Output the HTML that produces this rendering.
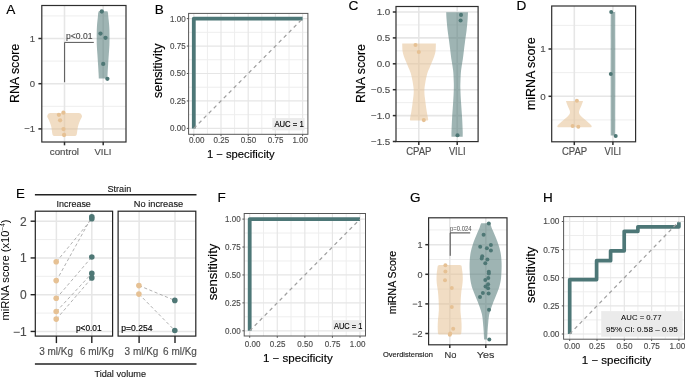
<!DOCTYPE html><html><head><meta charset="utf-8"><style>html,body{margin:0;padding:0;background:#fff;overflow:hidden}svg{display:block}text{font-family:"Liberation Sans",sans-serif}svg{will-change:transform}</style></head><body>
<svg width="685" height="377" viewBox="0 0 685 377">
<rect width="685" height="377" fill="#fff"/>
<line x1="41.8" y1="15.9" x2="126" y2="15.9" stroke="#eeeeee" stroke-width="1.0" />
<line x1="41.8" y1="61.1" x2="126" y2="61.1" stroke="#eeeeee" stroke-width="1.0" />
<line x1="41.8" y1="106.3" x2="126" y2="106.3" stroke="#eeeeee" stroke-width="1.0" />
<line x1="41.8" y1="38.5" x2="126" y2="38.5" stroke="#e6e6e6" stroke-width="1.6" />
<line x1="41.8" y1="83.7" x2="126" y2="83.7" stroke="#e6e6e6" stroke-width="1.6" />
<line x1="41.8" y1="128.9" x2="126" y2="128.9" stroke="#e6e6e6" stroke-width="1.6" />
<line x1="64.5" y1="5.5" x2="64.5" y2="142" stroke="#e6e6e6" stroke-width="1.6" />
<line x1="103.2" y1="5.5" x2="103.2" y2="142" stroke="#e6e6e6" stroke-width="1.6" />
<path d="M50.3,112.9 C50.02,113.02 49.05,113.25 48.6,113.6 C48.15,113.95 47.83,114.52 47.6,115 C47.37,115.48 47.12,115.92 47.2,116.5 C47.28,117.08 47.77,117.8 48.1,118.5 C48.43,119.2 48.75,119.62 49.2,120.7 C49.65,121.78 50.38,123.58 50.8,125 C51.22,126.42 51.45,127.78 51.7,129.2 C51.95,130.62 52.1,132.5 52.3,133.5 C52.5,134.5 52.62,134.8 52.9,135.2 C53.18,135.6 53.82,135.78 54,135.9 L75.2,135.9 C75.38,135.78 76.02,135.6 76.3,135.2 C76.58,134.8 76.7,134.5 76.9,133.5 C77.1,132.5 77.25,130.62 77.5,129.2 C77.75,127.78 77.98,126.42 78.4,125 C78.82,123.58 79.55,121.78 80,120.7 C80.45,119.62 80.77,119.2 81.1,118.5 C81.43,117.8 81.92,117.08 82,116.5 C82.08,115.92 81.83,115.48 81.6,115 C81.37,114.52 81.05,113.95 80.6,113.6 C80.15,113.25 79.18,113.02 78.9,112.9 Z" fill="#e6c194" fill-opacity="0.55"/>
<path d="M98.8,11.3 C98.7,11.58 98.35,12.12 98.2,13 C98.05,13.88 98.12,14.23 97.9,16.6 C97.68,18.97 97.1,23.67 96.9,27.2 C96.7,30.73 96.72,34.8 96.7,37.8 C96.68,40.8 96.68,42.4 96.8,45.2 C96.92,48 97.18,51.27 97.4,54.6 C97.62,57.93 97.9,62.02 98.1,65.2 C98.3,68.38 98.48,71.48 98.6,73.7 C98.72,75.92 98.77,77.7 98.8,78.5 L107.4,78.5 C107.43,77.7 107.48,75.92 107.6,73.7 C107.72,71.48 107.9,68.38 108.1,65.2 C108.3,62.02 108.58,57.93 108.8,54.6 C109.02,51.27 109.28,48 109.4,45.2 C109.52,42.4 109.52,40.8 109.5,37.8 C109.48,34.8 109.5,30.73 109.3,27.2 C109.1,23.67 108.52,18.97 108.3,16.6 C108.08,14.23 108.15,13.88 108,13 C107.85,12.12 107.5,11.58 107.4,11.3 Z" fill="#4e7775" fill-opacity="0.55"/>
<circle cx="63.4" cy="112.7" r="2.15" fill="#e6c194" />
<circle cx="58.9" cy="114.8" r="2.15" fill="#e6c194" />
<circle cx="60.1" cy="120.3" r="2.15" fill="#e6c194" />
<circle cx="63.5" cy="129.1" r="2.15" fill="#e6c194" />
<circle cx="64.1" cy="135" r="2.15" fill="#e6c194" />
<circle cx="101.8" cy="11.5" r="2.15" fill="#4e7775" />
<circle cx="100.5" cy="33.6" r="2.15" fill="#4e7775" />
<circle cx="105.5" cy="37.8" r="2.15" fill="#4e7775" />
<circle cx="103.2" cy="63.9" r="2.15" fill="#4e7775" />
<circle cx="107.4" cy="78.8" r="2.15" fill="#4e7775" />
<path d="M64.6,82.2 V42.4 H93.8" fill="none" stroke="#555" stroke-width="1"/>
<text x="66" y="38.9" font-size="8.8" fill="#4d4d4d" text-anchor="start" stroke="#4d4d4d" stroke-width="0.15" textLength="26.4" lengthAdjust="spacingAndGlyphs" >p&lt;0.01</text>
<rect x="41.8" y="5.5" width="84.2" height="136.5" fill="none" stroke="#2e2e2e" stroke-width="1.2" />
<line x1="38.4" y1="38.5" x2="41.8" y2="38.5" stroke="#2e2e2e" stroke-width="1.5" />
<line x1="38.4" y1="83.7" x2="41.8" y2="83.7" stroke="#2e2e2e" stroke-width="1.5" />
<line x1="38.4" y1="128.9" x2="41.8" y2="128.9" stroke="#2e2e2e" stroke-width="1.5" />
<line x1="64.5" y1="142" x2="64.5" y2="145.3" stroke="#2e2e2e" stroke-width="1.5" />
<line x1="103.2" y1="142" x2="103.2" y2="145.3" stroke="#2e2e2e" stroke-width="1.5" />
<text x="35" y="41.8" font-size="9.5" fill="#4d4d4d" text-anchor="end" stroke="#4d4d4d" stroke-width="0.15" >1</text>
<text x="35" y="87" font-size="9.5" fill="#4d4d4d" text-anchor="end" stroke="#4d4d4d" stroke-width="0.15" >0</text>
<text x="35" y="132.2" font-size="9.5" fill="#4d4d4d" text-anchor="end" stroke="#4d4d4d" stroke-width="0.15" >−1</text>
<text x="64.4" y="154.8" font-size="9.6" fill="#4d4d4d" text-anchor="middle" stroke="#4d4d4d" stroke-width="0.15" textLength="29.2" lengthAdjust="spacingAndGlyphs" >control</text>
<text x="102.9" y="154.8" font-size="9.6" fill="#4d4d4d" text-anchor="middle" stroke="#4d4d4d" stroke-width="0.15" textLength="16.8" lengthAdjust="spacingAndGlyphs" >VILI</text>
<text transform="rotate(-90 18.9 73.4)" x="18.9" y="73.4" font-size="12.2" fill="#000" text-anchor="middle" stroke="#000" stroke-width="0.15" textLength="59.3" lengthAdjust="spacingAndGlyphs" >RNA score</text>
<text x="6.2" y="14.1" font-size="13.6" fill="#000" text-anchor="start" stroke="#000" stroke-width="0.15" >A</text>
<line x1="188.6" y1="114.68" x2="307.9" y2="114.68" stroke="#eeeeee" stroke-width="1.0" />
<line x1="188.6" y1="87.22" x2="307.9" y2="87.22" stroke="#eeeeee" stroke-width="1.0" />
<line x1="188.6" y1="59.78" x2="307.9" y2="59.78" stroke="#eeeeee" stroke-width="1.0" />
<line x1="188.6" y1="32.32" x2="307.9" y2="32.32" stroke="#eeeeee" stroke-width="1.0" />
<line x1="207.4" y1="13.4" x2="207.4" y2="134.3" stroke="#eeeeee" stroke-width="1.0" />
<line x1="234.6" y1="13.4" x2="234.6" y2="134.3" stroke="#eeeeee" stroke-width="1.0" />
<line x1="261.8" y1="13.4" x2="261.8" y2="134.3" stroke="#eeeeee" stroke-width="1.0" />
<line x1="289" y1="13.4" x2="289" y2="134.3" stroke="#eeeeee" stroke-width="1.0" />
<line x1="188.6" y1="128.4" x2="307.9" y2="128.4" stroke="#e6e6e6" stroke-width="1.2" />
<line x1="188.6" y1="100.95" x2="307.9" y2="100.95" stroke="#e6e6e6" stroke-width="1.2" />
<line x1="188.6" y1="73.5" x2="307.9" y2="73.5" stroke="#e6e6e6" stroke-width="1.2" />
<line x1="188.6" y1="46.05" x2="307.9" y2="46.05" stroke="#e6e6e6" stroke-width="1.2" />
<line x1="188.6" y1="18.6" x2="307.9" y2="18.6" stroke="#e6e6e6" stroke-width="1.2" />
<line x1="193.8" y1="13.4" x2="193.8" y2="134.3" stroke="#e6e6e6" stroke-width="1.2" />
<line x1="221" y1="13.4" x2="221" y2="134.3" stroke="#e6e6e6" stroke-width="1.2" />
<line x1="248.2" y1="13.4" x2="248.2" y2="134.3" stroke="#e6e6e6" stroke-width="1.2" />
<line x1="275.4" y1="13.4" x2="275.4" y2="134.3" stroke="#e6e6e6" stroke-width="1.2" />
<line x1="302.6" y1="13.4" x2="302.6" y2="134.3" stroke="#e6e6e6" stroke-width="1.2" />
<path d="M193.8,128.4 V18.6 H302.6" fill="none" stroke="#4d7777" stroke-width="3.8" stroke-linejoin="round"/>
<line x1="193.8" y1="128.4" x2="302.6" y2="18.6" stroke="#a0a0a0" stroke-width="1.25" stroke-dasharray="3.7,3.4"/>
<rect x="272.3" y="118" width="32.3" height="12.4" fill="#ebebeb" stroke="none" stroke-width="1" />
<text x="274.4" y="126.8" font-size="8.4" fill="#000" text-anchor="start" stroke="#000" stroke-width="0.15" textLength="29.3" lengthAdjust="spacingAndGlyphs" >AUC = 1</text>
<rect x="188.6" y="13.4" width="119.3" height="120.9" fill="none" stroke="#575757" stroke-width="1.0" />
<line x1="186.8" y1="128.4" x2="188.6" y2="128.4" stroke="#555" stroke-width="1.0" />
<line x1="193.8" y1="134.3" x2="193.8" y2="136.1" stroke="#555" stroke-width="1.0" />
<text x="185.6" y="131.3" font-size="8.2" fill="#4d4d4d" text-anchor="end" stroke="#4d4d4d" stroke-width="0.15" textLength="15.6" lengthAdjust="spacingAndGlyphs" >0.00</text>
<text x="196.7" y="143.2" font-size="8.2" fill="#4d4d4d" text-anchor="middle" stroke="#4d4d4d" stroke-width="0.15" textLength="15.6" lengthAdjust="spacingAndGlyphs" >0.00</text>
<line x1="186.8" y1="100.95" x2="188.6" y2="100.95" stroke="#555" stroke-width="1.0" />
<line x1="221" y1="134.3" x2="221" y2="136.1" stroke="#555" stroke-width="1.0" />
<text x="185.6" y="103.85" font-size="8.2" fill="#4d4d4d" text-anchor="end" stroke="#4d4d4d" stroke-width="0.15" textLength="15.6" lengthAdjust="spacingAndGlyphs" >0.25</text>
<text x="221.3" y="143.2" font-size="8.2" fill="#4d4d4d" text-anchor="middle" stroke="#4d4d4d" stroke-width="0.15" textLength="15.6" lengthAdjust="spacingAndGlyphs" >0.25</text>
<line x1="186.8" y1="73.5" x2="188.6" y2="73.5" stroke="#555" stroke-width="1.0" />
<line x1="248.2" y1="134.3" x2="248.2" y2="136.1" stroke="#555" stroke-width="1.0" />
<text x="185.6" y="76.4" font-size="8.2" fill="#4d4d4d" text-anchor="end" stroke="#4d4d4d" stroke-width="0.15" textLength="15.6" lengthAdjust="spacingAndGlyphs" >0.50</text>
<text x="248.5" y="143.2" font-size="8.2" fill="#4d4d4d" text-anchor="middle" stroke="#4d4d4d" stroke-width="0.15" textLength="15.6" lengthAdjust="spacingAndGlyphs" >0.50</text>
<line x1="186.8" y1="46.05" x2="188.6" y2="46.05" stroke="#555" stroke-width="1.0" />
<line x1="275.4" y1="134.3" x2="275.4" y2="136.1" stroke="#555" stroke-width="1.0" />
<text x="185.6" y="48.95" font-size="8.2" fill="#4d4d4d" text-anchor="end" stroke="#4d4d4d" stroke-width="0.15" textLength="15.6" lengthAdjust="spacingAndGlyphs" >0.75</text>
<text x="275.6" y="143.2" font-size="8.2" fill="#4d4d4d" text-anchor="middle" stroke="#4d4d4d" stroke-width="0.15" textLength="15.6" lengthAdjust="spacingAndGlyphs" >0.75</text>
<line x1="186.8" y1="18.6" x2="188.6" y2="18.6" stroke="#555" stroke-width="1.0" />
<line x1="302.6" y1="134.3" x2="302.6" y2="136.1" stroke="#555" stroke-width="1.0" />
<text x="185.6" y="21.5" font-size="8.2" fill="#4d4d4d" text-anchor="end" stroke="#4d4d4d" stroke-width="0.15" textLength="15.6" lengthAdjust="spacingAndGlyphs" >1.00</text>
<text x="300.2" y="143.2" font-size="8.2" fill="#4d4d4d" text-anchor="middle" stroke="#4d4d4d" stroke-width="0.15" textLength="15.6" lengthAdjust="spacingAndGlyphs" >1.00</text>
<text transform="rotate(-90 161.8 70.8)" x="161.8" y="70.8" font-size="12.4" fill="#000" text-anchor="middle" stroke="#000" stroke-width="0.15" textLength="54.6" lengthAdjust="spacingAndGlyphs" >sensitivity</text>
<text x="206.9" y="157.6" font-size="11.2" fill="#000" text-anchor="start" stroke="#000" stroke-width="0.15" textLength="67.8" lengthAdjust="spacingAndGlyphs" >1 − specificity</text>
<text x="154.8" y="14.2" font-size="13.5" fill="#000" text-anchor="start" stroke="#000" stroke-width="0.15" >B</text>
<line x1="396" y1="24.95" x2="478.1" y2="24.95" stroke="#eeeeee" stroke-width="1.0" />
<line x1="396" y1="50.85" x2="478.1" y2="50.85" stroke="#eeeeee" stroke-width="1.0" />
<line x1="396" y1="76.75" x2="478.1" y2="76.75" stroke="#eeeeee" stroke-width="1.0" />
<line x1="396" y1="102.65" x2="478.1" y2="102.65" stroke="#eeeeee" stroke-width="1.0" />
<line x1="396" y1="128.55" x2="478.1" y2="128.55" stroke="#eeeeee" stroke-width="1.0" />
<line x1="396" y1="12" x2="478.1" y2="12" stroke="#e6e6e6" stroke-width="1.6" />
<line x1="396" y1="37.9" x2="478.1" y2="37.9" stroke="#e6e6e6" stroke-width="1.6" />
<line x1="396" y1="63.8" x2="478.1" y2="63.8" stroke="#e6e6e6" stroke-width="1.6" />
<line x1="396" y1="89.7" x2="478.1" y2="89.7" stroke="#e6e6e6" stroke-width="1.6" />
<line x1="396" y1="115.6" x2="478.1" y2="115.6" stroke="#e6e6e6" stroke-width="1.6" />
<line x1="418.8" y1="6.5" x2="418.8" y2="141.6" stroke="#e6e6e6" stroke-width="1.6" />
<line x1="457.2" y1="6.5" x2="457.2" y2="141.6" stroke="#e6e6e6" stroke-width="1.6" />
<path d="M402.2,43.6 C402.26,44.85 402.25,48.92 402.55,51.1 C402.85,53.28 403.38,54.83 404,56.7 C404.62,58.57 405.48,60.43 406.25,62.3 C407.02,64.17 407.83,66.05 408.6,67.9 C409.37,69.75 410.19,71.18 410.85,73.4 C411.51,75.62 412.07,78.25 412.55,81.2 C413.03,84.15 413.73,87.58 413.75,91.1 C413.77,94.62 413.04,98.95 412.65,102.3 C412.26,105.65 411.85,108.37 411.4,111.2 C410.95,114.03 410.11,117.77 409.95,119.3 C409.79,120.83 410.37,120.22 410.45,120.4 L427.65,120.4 C427.73,120.22 428.31,120.83 428.15,119.3 C427.99,117.77 427.15,114.03 426.7,111.2 C426.25,108.37 425.84,105.65 425.45,102.3 C425.06,98.95 424.33,94.62 424.35,91.1 C424.37,87.58 425.07,84.15 425.55,81.2 C426.03,78.25 426.59,75.62 427.25,73.4 C427.91,71.18 428.73,69.75 429.5,67.9 C430.27,66.05 431.08,64.17 431.85,62.3 C432.62,60.43 433.48,58.57 434.1,56.7 C434.72,54.83 435.25,53.28 435.55,51.1 C435.85,48.92 435.84,44.85 435.9,43.6 Z" fill="#e6c194" fill-opacity="0.55"/>
<path d="M446.2,12.2 C446.26,13.35 446.32,16.08 446.55,19.1 C446.78,22.12 447.17,26.58 447.6,30.3 C448.03,34.02 448.73,38.25 449.15,41.4 C449.58,44.55 449.78,46.25 450.15,49.2 C450.52,52.15 450.86,55.58 451.35,59.1 C451.84,62.62 452.7,66.58 453.1,70.3 C453.5,74.02 453.63,78.25 453.75,81.4 C453.87,84.55 453.9,85.72 453.8,89.2 C453.7,92.68 453.43,97.72 453.15,102.3 C452.88,106.88 452.43,111.92 452.15,116.7 C451.88,121.48 451.61,127.65 451.5,131 C451.39,134.35 451.5,135.83 451.5,136.8 L462.7,136.8 C462.7,135.83 462.81,134.35 462.7,131 C462.59,127.65 462.33,121.48 462.05,116.7 C461.77,111.92 461.32,106.88 461.05,102.3 C460.78,97.72 460.5,92.68 460.4,89.2 C460.3,85.72 460.33,84.55 460.45,81.4 C460.57,78.25 460.7,74.02 461.1,70.3 C461.5,66.58 462.36,62.62 462.85,59.1 C463.34,55.58 463.68,52.15 464.05,49.2 C464.42,46.25 464.62,44.55 465.05,41.4 C465.48,38.25 466.17,34.02 466.6,30.3 C467.03,26.58 467.42,22.12 467.65,19.1 C467.88,16.08 467.94,13.35 468,12.2 Z" fill="#4e7775" fill-opacity="0.55"/>
<circle cx="415.5" cy="45" r="2.05" fill="#e6c194" />
<circle cx="418.8" cy="52" r="2.05" fill="#e6c194" />
<circle cx="423.8" cy="120.1" r="2.05" fill="#e6c194" />
<circle cx="461" cy="14.9" r="2.05" fill="#4e7775" />
<circle cx="460.6" cy="20.5" r="2.05" fill="#4e7775" />
<circle cx="457.5" cy="135.3" r="2.05" fill="#4e7775" />
<rect x="396" y="6.5" width="82.1" height="135.1" fill="none" stroke="#2e2e2e" stroke-width="1.2" />
<line x1="392.8" y1="12" x2="396" y2="12" stroke="#2e2e2e" stroke-width="1.5" />
<text x="390.3" y="15.4" font-size="9.8" fill="#4d4d4d" text-anchor="end" stroke="#4d4d4d" stroke-width="0.15" >1.0</text>
<line x1="392.8" y1="37.9" x2="396" y2="37.9" stroke="#2e2e2e" stroke-width="1.5" />
<text x="390.3" y="41.3" font-size="9.8" fill="#4d4d4d" text-anchor="end" stroke="#4d4d4d" stroke-width="0.15" >0.5</text>
<line x1="392.8" y1="63.8" x2="396" y2="63.8" stroke="#2e2e2e" stroke-width="1.5" />
<text x="390.3" y="67.2" font-size="9.8" fill="#4d4d4d" text-anchor="end" stroke="#4d4d4d" stroke-width="0.15" >0.0</text>
<line x1="392.8" y1="89.7" x2="396" y2="89.7" stroke="#2e2e2e" stroke-width="1.5" />
<text x="390.3" y="93.1" font-size="9.8" fill="#4d4d4d" text-anchor="end" stroke="#4d4d4d" stroke-width="0.15" >−0.5</text>
<line x1="392.8" y1="115.6" x2="396" y2="115.6" stroke="#2e2e2e" stroke-width="1.5" />
<text x="390.3" y="119" font-size="9.8" fill="#4d4d4d" text-anchor="end" stroke="#4d4d4d" stroke-width="0.15" >−1.0</text>
<line x1="392.8" y1="141.5" x2="396" y2="141.5" stroke="#2e2e2e" stroke-width="1.5" />
<text x="390.3" y="144.9" font-size="9.8" fill="#4d4d4d" text-anchor="end" stroke="#4d4d4d" stroke-width="0.15" >−1.5</text>
<line x1="418.8" y1="141.6" x2="418.8" y2="144.9" stroke="#2e2e2e" stroke-width="1.5" />
<line x1="457.2" y1="141.6" x2="457.2" y2="144.9" stroke="#2e2e2e" stroke-width="1.5" />
<text x="418.8" y="154.6" font-size="10.2" fill="#4d4d4d" text-anchor="middle" stroke="#4d4d4d" stroke-width="0.15" textLength="25.3" lengthAdjust="spacingAndGlyphs" >CPAP</text>
<text x="457.2" y="154.6" font-size="10.2" fill="#4d4d4d" text-anchor="middle" stroke="#4d4d4d" stroke-width="0.15" textLength="16.6" lengthAdjust="spacingAndGlyphs" >VILI</text>
<text transform="rotate(-90 365.1 73.55)" x="365.1" y="73.55" font-size="12.2" fill="#000" text-anchor="middle" stroke="#000" stroke-width="0.15" textLength="59" lengthAdjust="spacingAndGlyphs" >RNA score</text>
<text x="348.6" y="9.8" font-size="13.7" fill="#000" text-anchor="start" stroke="#000" stroke-width="0.15" >C</text>
<line x1="551.7" y1="25.35" x2="635.6" y2="25.35" stroke="#eeeeee" stroke-width="1.0" />
<line x1="551.7" y1="72.65" x2="635.6" y2="72.65" stroke="#eeeeee" stroke-width="1.0" />
<line x1="551.7" y1="119.95" x2="635.6" y2="119.95" stroke="#eeeeee" stroke-width="1.0" />
<line x1="551.7" y1="49" x2="635.6" y2="49" stroke="#e6e6e6" stroke-width="1.6" />
<line x1="551.7" y1="96.3" x2="635.6" y2="96.3" stroke="#e6e6e6" stroke-width="1.6" />
<line x1="574.3" y1="6" x2="574.3" y2="141.8" stroke="#e6e6e6" stroke-width="1.6" />
<line x1="612.9" y1="6" x2="612.9" y2="141.8" stroke="#e6e6e6" stroke-width="1.6" />
<path d="M565.9,101 C566.17,101.75 566.93,103.95 567.55,105.5 C568.17,107.05 569.22,109.02 569.6,110.3 C569.98,111.58 570.11,112.25 569.85,113.2 C569.59,114.15 569.11,114.88 568.05,116 C566.99,117.12 564.97,118.62 563.5,119.9 C562.03,121.18 560.28,122.67 559.25,123.7 C558.22,124.73 557.52,125.5 557.3,126.1 C557.07,126.7 557.8,127.1 557.9,127.3 L591.1,127.3 C591.2,127.1 591.93,126.7 591.7,126.1 C591.48,125.5 590.78,124.73 589.75,123.7 C588.72,122.67 586.97,121.18 585.5,119.9 C584.03,118.62 582.01,117.12 580.95,116 C579.89,114.88 579.41,114.15 579.15,113.2 C578.89,112.25 579.02,111.58 579.4,110.3 C579.78,109.02 580.83,107.05 581.45,105.5 C582.07,103.95 582.83,101.75 583.1,101 Z" fill="#e6c194" fill-opacity="0.55"/>
<path d="M611,12 C610.96,12.25 610.8,8.83 610.75,13.5 C610.7,18.17 610.72,28.92 610.7,40 C610.68,51.08 610.65,66.67 610.65,80 C610.65,93.33 610.68,110.77 610.7,120 C610.72,129.23 610.74,132.83 610.75,135.4 L615.25,135.4 C615.26,132.83 615.28,129.23 615.3,120 C615.32,110.77 615.35,93.33 615.35,80 C615.35,66.67 615.32,51.08 615.3,40 C615.28,28.92 615.3,18.17 615.25,13.5 C615.2,8.83 615.04,12.25 615,12 Z" fill="#4e7775" fill-opacity="0.55"/>
<circle cx="576.9" cy="100.8" r="2" fill="#e6c194" />
<circle cx="572.6" cy="126.1" r="2" fill="#e6c194" />
<circle cx="578.3" cy="126.7" r="2" fill="#e6c194" />
<circle cx="611.2" cy="12" r="2" fill="#4e7775" />
<circle cx="610.8" cy="73.9" r="2" fill="#4e7775" />
<circle cx="615.7" cy="136.1" r="2" fill="#4e7775" />
<rect x="551.7" y="6" width="83.9" height="135.8" fill="none" stroke="#2e2e2e" stroke-width="1.2" />
<line x1="548.5" y1="49" x2="551.7" y2="49" stroke="#2e2e2e" stroke-width="1.5" />
<text x="545.6" y="52.4" font-size="9.8" fill="#4d4d4d" text-anchor="end" stroke="#4d4d4d" stroke-width="0.15" >1</text>
<line x1="548.5" y1="96.3" x2="551.7" y2="96.3" stroke="#2e2e2e" stroke-width="1.5" />
<text x="545.6" y="99.7" font-size="9.8" fill="#4d4d4d" text-anchor="end" stroke="#4d4d4d" stroke-width="0.15" >0</text>
<line x1="574.3" y1="141.8" x2="574.3" y2="145.1" stroke="#2e2e2e" stroke-width="1.5" />
<line x1="612.9" y1="141.8" x2="612.9" y2="145.1" stroke="#2e2e2e" stroke-width="1.5" />
<text x="574.6" y="155" font-size="10.2" fill="#4d4d4d" text-anchor="middle" stroke="#4d4d4d" stroke-width="0.15" textLength="25.3" lengthAdjust="spacingAndGlyphs" >CPAP</text>
<text x="612.9" y="155" font-size="10.2" fill="#4d4d4d" text-anchor="middle" stroke="#4d4d4d" stroke-width="0.15" textLength="16.6" lengthAdjust="spacingAndGlyphs" >VILI</text>
<text transform="rotate(-90 534.8 73.75)" x="534.8" y="73.75" font-size="12.2" fill="#000" text-anchor="middle" stroke="#000" stroke-width="0.15" textLength="72.6" lengthAdjust="spacingAndGlyphs" >miRNA score</text>
<text x="516.5" y="9.6" font-size="13.6" fill="#000" text-anchor="start" stroke="#000" stroke-width="0.15" >D</text>
<line x1="35.3" y1="239.57" x2="112.6" y2="239.57" stroke="#eeeeee" stroke-width="1.0" />
<line x1="35.3" y1="276.32" x2="112.6" y2="276.32" stroke="#eeeeee" stroke-width="1.0" />
<line x1="35.3" y1="313.07" x2="112.6" y2="313.07" stroke="#eeeeee" stroke-width="1.0" />
<line x1="35.3" y1="221.2" x2="112.6" y2="221.2" stroke="#e6e6e6" stroke-width="1.5" />
<line x1="35.3" y1="257.95" x2="112.6" y2="257.95" stroke="#e6e6e6" stroke-width="1.5" />
<line x1="35.3" y1="294.7" x2="112.6" y2="294.7" stroke="#e6e6e6" stroke-width="1.5" />
<line x1="35.3" y1="331.45" x2="112.6" y2="331.45" stroke="#e6e6e6" stroke-width="1.5" />
<line x1="56.4" y1="211.2" x2="56.4" y2="336.1" stroke="#e6e6e6" stroke-width="1.5" />
<line x1="91.8" y1="211.2" x2="91.8" y2="336.1" stroke="#e6e6e6" stroke-width="1.5" />
<line x1="118.1" y1="239.57" x2="195.8" y2="239.57" stroke="#eeeeee" stroke-width="1.0" />
<line x1="118.1" y1="276.32" x2="195.8" y2="276.32" stroke="#eeeeee" stroke-width="1.0" />
<line x1="118.1" y1="313.07" x2="195.8" y2="313.07" stroke="#eeeeee" stroke-width="1.0" />
<line x1="118.1" y1="221.2" x2="195.8" y2="221.2" stroke="#e6e6e6" stroke-width="1.5" />
<line x1="118.1" y1="257.95" x2="195.8" y2="257.95" stroke="#e6e6e6" stroke-width="1.5" />
<line x1="118.1" y1="294.7" x2="195.8" y2="294.7" stroke="#e6e6e6" stroke-width="1.5" />
<line x1="118.1" y1="331.45" x2="195.8" y2="331.45" stroke="#e6e6e6" stroke-width="1.5" />
<line x1="139.1" y1="211.2" x2="139.1" y2="336.1" stroke="#e6e6e6" stroke-width="1.5" />
<line x1="175" y1="211.2" x2="175" y2="336.1" stroke="#e6e6e6" stroke-width="1.5" />
<line x1="56.4" y1="261.8" x2="91.8" y2="218.8" stroke="#a8a8a8" stroke-width="0.9" stroke-dasharray="3.2,2.4"/>
<line x1="56.4" y1="280.7" x2="91.8" y2="216.9" stroke="#a8a8a8" stroke-width="0.9" stroke-dasharray="3.2,2.4"/>
<line x1="56.4" y1="298.3" x2="91.8" y2="257" stroke="#a8a8a8" stroke-width="0.9" stroke-dasharray="3.2,2.4"/>
<line x1="56.4" y1="311.5" x2="91.8" y2="273.4" stroke="#a8a8a8" stroke-width="0.9" stroke-dasharray="3.2,2.4"/>
<line x1="56.4" y1="319.1" x2="91.8" y2="277.9" stroke="#a8a8a8" stroke-width="0.9" stroke-dasharray="3.2,2.4"/>
<line x1="139" y1="285.6" x2="174.8" y2="300.4" stroke="#a8a8a8" stroke-width="0.9" stroke-dasharray="3.2,2.4"/>
<line x1="139" y1="294.1" x2="174.8" y2="330.5" stroke="#a8a8a8" stroke-width="0.9" stroke-dasharray="3.2,2.4"/>
<circle cx="56.2" cy="261.8" r="2.8" fill="#e6c194" />
<circle cx="56.2" cy="280.6" r="2.8" fill="#e6c194" />
<circle cx="56.2" cy="298.3" r="2.8" fill="#e6c194" />
<circle cx="56.2" cy="311.5" r="2.8" fill="#e6c194" />
<circle cx="56.2" cy="319.1" r="2.8" fill="#e6c194" />
<circle cx="91.8" cy="216.8" r="2.8" fill="#4e7775" />
<circle cx="91.8" cy="218.8" r="2.8" fill="#4e7775" />
<circle cx="91.8" cy="257" r="2.8" fill="#4e7775" />
<circle cx="91.8" cy="273.4" r="2.8" fill="#4e7775" />
<circle cx="91.8" cy="277.9" r="2.8" fill="#4e7775" />
<circle cx="138.9" cy="285.6" r="2.8" fill="#e6c194" />
<circle cx="138.9" cy="294.1" r="2.8" fill="#e6c194" />
<circle cx="174.8" cy="300.4" r="2.8" fill="#4e7775" />
<circle cx="174.8" cy="330.5" r="2.8" fill="#4e7775" />
<rect x="35.3" y="211.2" width="77.3" height="124.9" fill="none" stroke="#222" stroke-width="1.2" />
<line x1="56.4" y1="336.1" x2="56.4" y2="343.1" stroke="#222" stroke-width="1.4" />
<line x1="91.8" y1="336.1" x2="91.8" y2="343.1" stroke="#222" stroke-width="1.4" />
<rect x="118.1" y="211.2" width="77.7" height="124.9" fill="none" stroke="#222" stroke-width="1.2" />
<line x1="139.1" y1="336.1" x2="139.1" y2="343.1" stroke="#222" stroke-width="1.4" />
<line x1="175" y1="336.1" x2="175" y2="343.1" stroke="#222" stroke-width="1.4" />
<line x1="30.6" y1="221.2" x2="35.3" y2="221.2" stroke="#222" stroke-width="1.4" />
<text x="26.6" y="225.5" font-size="12" fill="#4d4d4d" text-anchor="end" stroke="#4d4d4d" stroke-width="0.15" >2</text>
<line x1="30.6" y1="257.95" x2="35.3" y2="257.95" stroke="#222" stroke-width="1.4" />
<text x="26.6" y="262.25" font-size="12" fill="#4d4d4d" text-anchor="end" stroke="#4d4d4d" stroke-width="0.15" >1</text>
<line x1="30.6" y1="294.7" x2="35.3" y2="294.7" stroke="#222" stroke-width="1.4" />
<text x="26.6" y="299" font-size="12" fill="#4d4d4d" text-anchor="end" stroke="#4d4d4d" stroke-width="0.15" >0</text>
<line x1="30.6" y1="331.45" x2="35.3" y2="331.45" stroke="#222" stroke-width="1.4" />
<text x="26.6" y="335.75" font-size="12" fill="#4d4d4d" text-anchor="end" stroke="#4d4d4d" stroke-width="0.15" >−1</text>
<text x="75.9" y="331.4" font-size="8.3" fill="#000" text-anchor="start" stroke="#000" stroke-width="0.15" textLength="25.7" lengthAdjust="spacingAndGlyphs" >p&lt;0.01</text>
<text x="121.3" y="331" font-size="8.3" fill="#000" text-anchor="start" stroke="#000" stroke-width="0.15" textLength="31.2" lengthAdjust="spacingAndGlyphs" >p=0.254</text>
<text x="56.1" y="354.9" font-size="10.2" fill="#4d4d4d" text-anchor="middle" stroke="#4d4d4d" stroke-width="0.15" textLength="33.8" lengthAdjust="spacingAndGlyphs" >3 ml/Kg</text>
<text x="96.9" y="354.9" font-size="10.2" fill="#4d4d4d" text-anchor="middle" stroke="#4d4d4d" stroke-width="0.15" textLength="33.8" lengthAdjust="spacingAndGlyphs" >6 ml/Kg</text>
<text x="141.5" y="354.9" font-size="10.2" fill="#4d4d4d" text-anchor="middle" stroke="#4d4d4d" stroke-width="0.15" textLength="33.8" lengthAdjust="spacingAndGlyphs" >3 ml/Kg</text>
<text x="180" y="354.9" font-size="10.2" fill="#4d4d4d" text-anchor="middle" stroke="#4d4d4d" stroke-width="0.15" textLength="33.8" lengthAdjust="spacingAndGlyphs" >6 ml/Kg</text>
<line x1="34.9" y1="194.8" x2="196.5" y2="194.8" stroke="#222" stroke-width="1.5" />
<line x1="34.9" y1="364.1" x2="196.5" y2="364.1" stroke="#222" stroke-width="1.5" />
<text x="107.5" y="191.5" font-size="9.0" fill="#1a1a1a" text-anchor="start" stroke="#1a1a1a" stroke-width="0.15" textLength="23.7" lengthAdjust="spacingAndGlyphs" >Strain</text>
<text x="73.7" y="207" font-size="8.9" fill="#1a1a1a" text-anchor="middle" stroke="#1a1a1a" stroke-width="0.15" textLength="34.3" lengthAdjust="spacingAndGlyphs" >Increase</text>
<text x="158.5" y="207" font-size="8.9" fill="#1a1a1a" text-anchor="middle" stroke="#1a1a1a" stroke-width="0.15" textLength="49.4" lengthAdjust="spacingAndGlyphs" >No increase</text>
<text x="120.2" y="376.9" font-size="9.6" fill="#1a1a1a" text-anchor="middle" stroke="#1a1a1a" stroke-width="0.15" textLength="51.6" lengthAdjust="spacingAndGlyphs" >Tidal volume</text>
<text transform="rotate(-90 8.6 270.1)" x="8.6" y="270.1" font-size="11.2" fill="#000" text-anchor="middle" textLength="101" lengthAdjust="spacingAndGlyphs">miRNA score (x10<tspan dy="-4" font-size="6.3">−4</tspan><tspan dy="4">)</tspan></text>
<text x="15.9" y="197.7" font-size="13.3" fill="#000" text-anchor="start" stroke="#000" stroke-width="0.15" >E</text>
<line x1="244.2" y1="316.84" x2="365.5" y2="316.84" stroke="#eeeeee" stroke-width="1.0" />
<line x1="244.2" y1="288.91" x2="365.5" y2="288.91" stroke="#eeeeee" stroke-width="1.0" />
<line x1="244.2" y1="260.99" x2="365.5" y2="260.99" stroke="#eeeeee" stroke-width="1.0" />
<line x1="244.2" y1="233.06" x2="365.5" y2="233.06" stroke="#eeeeee" stroke-width="1.0" />
<line x1="263.49" y1="213.5" x2="263.49" y2="336" stroke="#eeeeee" stroke-width="1.0" />
<line x1="291.06" y1="213.5" x2="291.06" y2="336" stroke="#eeeeee" stroke-width="1.0" />
<line x1="318.64" y1="213.5" x2="318.64" y2="336" stroke="#eeeeee" stroke-width="1.0" />
<line x1="346.21" y1="213.5" x2="346.21" y2="336" stroke="#eeeeee" stroke-width="1.0" />
<line x1="244.2" y1="330.8" x2="365.5" y2="330.8" stroke="#e6e6e6" stroke-width="1.2" />
<line x1="244.2" y1="302.88" x2="365.5" y2="302.88" stroke="#e6e6e6" stroke-width="1.2" />
<line x1="244.2" y1="274.95" x2="365.5" y2="274.95" stroke="#e6e6e6" stroke-width="1.2" />
<line x1="244.2" y1="247.03" x2="365.5" y2="247.03" stroke="#e6e6e6" stroke-width="1.2" />
<line x1="244.2" y1="219.1" x2="365.5" y2="219.1" stroke="#e6e6e6" stroke-width="1.2" />
<line x1="249.7" y1="213.5" x2="249.7" y2="336" stroke="#e6e6e6" stroke-width="1.2" />
<line x1="277.27" y1="213.5" x2="277.27" y2="336" stroke="#e6e6e6" stroke-width="1.2" />
<line x1="304.85" y1="213.5" x2="304.85" y2="336" stroke="#e6e6e6" stroke-width="1.2" />
<line x1="332.43" y1="213.5" x2="332.43" y2="336" stroke="#e6e6e6" stroke-width="1.2" />
<line x1="360" y1="213.5" x2="360" y2="336" stroke="#e6e6e6" stroke-width="1.2" />
<path d="M249.7,330.8 V219.1 H360" fill="none" stroke="#4d7777" stroke-width="3.8" stroke-linejoin="round"/>
<line x1="249.7" y1="330.8" x2="360" y2="219.1" stroke="#a0a0a0" stroke-width="1.25" stroke-dasharray="3.7,3.4"/>
<rect x="332.2" y="320.1" width="29.9" height="11.3" fill="#ebebeb" stroke="none" stroke-width="1" />
<text x="334" y="329.2" font-size="8.3" fill="#000" text-anchor="start" stroke="#000" stroke-width="0.15" textLength="28.4" lengthAdjust="spacingAndGlyphs" >AUC = 1</text>
<rect x="244.2" y="213.5" width="121.3" height="122.5" fill="none" stroke="#575757" stroke-width="1.0" />
<line x1="242.4" y1="330.8" x2="244.2" y2="330.8" stroke="#555" stroke-width="1.0" />
<line x1="249.7" y1="336" x2="249.7" y2="337.8" stroke="#555" stroke-width="1.0" />
<text x="240.7" y="333.7" font-size="8.2" fill="#4d4d4d" text-anchor="end" stroke="#4d4d4d" stroke-width="0.15" textLength="15.6" lengthAdjust="spacingAndGlyphs" >0.00</text>
<text x="252.6" y="346.5" font-size="8.2" fill="#4d4d4d" text-anchor="middle" stroke="#4d4d4d" stroke-width="0.15" textLength="15.6" lengthAdjust="spacingAndGlyphs" >0.00</text>
<line x1="242.4" y1="302.88" x2="244.2" y2="302.88" stroke="#555" stroke-width="1.0" />
<line x1="277.27" y1="336" x2="277.27" y2="337.8" stroke="#555" stroke-width="1.0" />
<text x="240.7" y="305.77" font-size="8.2" fill="#4d4d4d" text-anchor="end" stroke="#4d4d4d" stroke-width="0.15" textLength="15.6" lengthAdjust="spacingAndGlyphs" >0.25</text>
<text x="277.57" y="346.5" font-size="8.2" fill="#4d4d4d" text-anchor="middle" stroke="#4d4d4d" stroke-width="0.15" textLength="15.6" lengthAdjust="spacingAndGlyphs" >0.25</text>
<line x1="242.4" y1="274.95" x2="244.2" y2="274.95" stroke="#555" stroke-width="1.0" />
<line x1="304.85" y1="336" x2="304.85" y2="337.8" stroke="#555" stroke-width="1.0" />
<text x="240.7" y="277.85" font-size="8.2" fill="#4d4d4d" text-anchor="end" stroke="#4d4d4d" stroke-width="0.15" textLength="15.6" lengthAdjust="spacingAndGlyphs" >0.50</text>
<text x="305.15" y="346.5" font-size="8.2" fill="#4d4d4d" text-anchor="middle" stroke="#4d4d4d" stroke-width="0.15" textLength="15.6" lengthAdjust="spacingAndGlyphs" >0.50</text>
<line x1="242.4" y1="247.03" x2="244.2" y2="247.03" stroke="#555" stroke-width="1.0" />
<line x1="332.43" y1="336" x2="332.43" y2="337.8" stroke="#555" stroke-width="1.0" />
<text x="240.7" y="249.93" font-size="8.2" fill="#4d4d4d" text-anchor="end" stroke="#4d4d4d" stroke-width="0.15" textLength="15.6" lengthAdjust="spacingAndGlyphs" >0.75</text>
<text x="332.62" y="346.5" font-size="8.2" fill="#4d4d4d" text-anchor="middle" stroke="#4d4d4d" stroke-width="0.15" textLength="15.6" lengthAdjust="spacingAndGlyphs" >0.75</text>
<line x1="242.4" y1="219.1" x2="244.2" y2="219.1" stroke="#555" stroke-width="1.0" />
<line x1="360" y1="336" x2="360" y2="337.8" stroke="#555" stroke-width="1.0" />
<text x="240.7" y="222" font-size="8.2" fill="#4d4d4d" text-anchor="end" stroke="#4d4d4d" stroke-width="0.15" textLength="15.6" lengthAdjust="spacingAndGlyphs" >1.00</text>
<text x="357.6" y="346.5" font-size="8.2" fill="#4d4d4d" text-anchor="middle" stroke="#4d4d4d" stroke-width="0.15" textLength="15.6" lengthAdjust="spacingAndGlyphs" >1.00</text>
<text transform="rotate(-90 216.8 271.9)" x="216.8" y="271.9" font-size="12.4" fill="#000" text-anchor="middle" stroke="#000" stroke-width="0.15" textLength="56.6" lengthAdjust="spacingAndGlyphs" >sensitivity</text>
<text x="262.9" y="361.6" font-size="11.2" fill="#000" text-anchor="start" stroke="#000" stroke-width="0.15" textLength="69.8" lengthAdjust="spacingAndGlyphs" >1 − specificity</text>
<text x="217.4" y="201.9" font-size="13.5" fill="#000" text-anchor="start" stroke="#000" stroke-width="0.15" >F</text>
<line x1="428.6" y1="229.9" x2="507" y2="229.9" stroke="#eeeeee" stroke-width="1.0" />
<line x1="428.6" y1="259.5" x2="507" y2="259.5" stroke="#eeeeee" stroke-width="1.0" />
<line x1="428.6" y1="289.1" x2="507" y2="289.1" stroke="#eeeeee" stroke-width="1.0" />
<line x1="428.6" y1="318.7" x2="507" y2="318.7" stroke="#eeeeee" stroke-width="1.0" />
<line x1="428.6" y1="244.7" x2="507" y2="244.7" stroke="#e6e6e6" stroke-width="1.6" />
<line x1="428.6" y1="274.3" x2="507" y2="274.3" stroke="#e6e6e6" stroke-width="1.6" />
<line x1="428.6" y1="303.9" x2="507" y2="303.9" stroke="#e6e6e6" stroke-width="1.6" />
<line x1="428.6" y1="333.5" x2="507" y2="333.5" stroke="#e6e6e6" stroke-width="1.6" />
<line x1="449.8" y1="217.8" x2="449.8" y2="344.8" stroke="#e6e6e6" stroke-width="1.6" />
<line x1="485.8" y1="217.8" x2="485.8" y2="344.8" stroke="#e6e6e6" stroke-width="1.6" />
<path d="M439.45,264.9 C439.22,265.02 438.37,265.25 438.05,265.6 C437.73,265.95 437.67,266.42 437.55,267 C437.42,267.58 437.45,267.82 437.3,269.1 C437.15,270.38 436.77,272.83 436.65,274.7 C436.52,276.57 436.47,278.43 436.55,280.3 C436.62,282.17 436.87,284.05 437.1,285.9 C437.33,287.75 437.71,289.18 437.95,291.4 C438.19,293.62 438.4,296.25 438.55,299.2 C438.7,302.15 438.86,306.52 438.85,309.1 C438.84,311.68 438.65,312.83 438.5,314.7 C438.35,316.57 438.08,318.25 437.95,320.3 C437.82,322.35 437.68,324.85 437.7,327 C437.72,329.15 437.82,331.93 438.05,333.2 C438.27,334.47 438.88,334.37 439.05,334.6 L460.25,334.6 C460.42,334.37 461.02,334.47 461.25,333.2 C461.48,331.93 461.58,329.15 461.6,327 C461.62,324.85 461.48,322.35 461.35,320.3 C461.22,318.25 460.95,316.57 460.8,314.7 C460.65,312.83 460.46,311.68 460.45,309.1 C460.44,306.52 460.6,302.15 460.75,299.2 C460.9,296.25 461.11,293.62 461.35,291.4 C461.59,289.18 461.97,287.75 462.2,285.9 C462.43,284.05 462.68,282.17 462.75,280.3 C462.82,278.43 462.77,276.57 462.65,274.7 C462.52,272.83 462.15,270.38 462,269.1 C461.85,267.82 461.88,267.58 461.75,267 C461.62,266.42 461.57,265.95 461.25,265.6 C460.93,265.25 460.08,265.02 459.85,264.9 Z" fill="#e6c194" fill-opacity="0.55"/>
<path d="M481.2,223.2 C481.07,223.5 480.71,224.15 480.4,225 C480.09,225.85 480.03,226.6 479.35,228.3 C478.68,230 477.42,232.6 476.35,235.2 C475.28,237.8 473.9,241.02 472.95,243.9 C472,246.78 471.19,249.63 470.65,252.5 C470.11,255.37 469.87,258.23 469.7,261.1 C469.53,263.97 469.53,266.53 469.65,269.7 C469.77,272.87 469.94,276.95 470.4,280.1 C470.86,283.25 471.49,285.75 472.4,288.6 C473.31,291.45 474.7,294.32 475.85,297.2 C477,300.08 478.28,303.02 479.3,305.9 C480.32,308.78 481.38,311.63 482,314.5 C482.62,317.37 482.72,320.23 483,323.1 C483.28,325.97 483.53,328.97 483.7,331.7 C483.88,334.43 483.99,338.2 484.05,339.5 L487.15,339.5 C487.21,338.2 487.32,334.43 487.5,331.7 C487.68,328.97 487.92,325.97 488.2,323.1 C488.48,320.23 488.58,317.37 489.2,314.5 C489.82,311.63 490.88,308.78 491.9,305.9 C492.93,303.02 494.2,300.08 495.35,297.2 C496.5,294.32 497.89,291.45 498.8,288.6 C499.71,285.75 500.34,283.25 500.8,280.1 C501.26,276.95 501.43,272.87 501.55,269.7 C501.67,266.53 501.67,263.97 501.5,261.1 C501.33,258.23 501.09,255.37 500.55,252.5 C500.01,249.63 499.2,246.78 498.25,243.9 C497.3,241.02 495.92,237.8 494.85,235.2 C493.78,232.6 492.53,230 491.85,228.3 C491.18,226.6 491.11,225.85 490.8,225 C490.49,224.15 490.13,223.5 490,223.2 Z" fill="#4e7775" fill-opacity="0.55"/>
<path d="M450.2,255.8 V232.9 H470.2" fill="none" stroke="#444" stroke-width="1"/>
<text x="450" y="230.7" font-size="6.8" fill="#5a5a5a" text-anchor="start" stroke="#5a5a5a" stroke-width="0.05" textLength="21.6" lengthAdjust="spacingAndGlyphs" >p=0.024</text>
<circle cx="445.4" cy="265.2" r="2" fill="#e6c194" />
<circle cx="445.4" cy="271.6" r="2" fill="#e6c194" />
<circle cx="445" cy="280.3" r="2" fill="#e6c194" />
<circle cx="451.8" cy="287.9" r="2" fill="#e6c194" />
<circle cx="451.8" cy="306.9" r="2" fill="#e6c194" />
<circle cx="453.2" cy="328.7" r="2" fill="#e6c194" />
<circle cx="450.2" cy="333.5" r="2" fill="#e6c194" />
<circle cx="449.8" cy="334.8" r="2" fill="#e6c194" />
<circle cx="488.8" cy="223.5" r="2" fill="#4e7775" />
<circle cx="483.6" cy="234.7" r="2" fill="#4e7775" />
<circle cx="480.2" cy="246.8" r="2" fill="#4e7775" />
<circle cx="490.9" cy="245.1" r="2" fill="#4e7775" />
<circle cx="486.9" cy="248.2" r="2" fill="#4e7775" />
<circle cx="490.9" cy="250.4" r="2" fill="#4e7775" />
<circle cx="482.2" cy="256.3" r="2" fill="#4e7775" />
<circle cx="481.7" cy="258.5" r="2" fill="#4e7775" />
<circle cx="487.4" cy="259.4" r="2" fill="#4e7775" />
<circle cx="485.3" cy="263.2" r="2" fill="#4e7775" />
<circle cx="488.8" cy="271.8" r="2" fill="#4e7775" />
<circle cx="488.8" cy="273.5" r="2" fill="#4e7775" />
<circle cx="488.3" cy="278" r="2" fill="#4e7775" />
<circle cx="485.3" cy="279.9" r="2" fill="#4e7775" />
<circle cx="488.1" cy="284.3" r="2" fill="#4e7775" />
<circle cx="485.5" cy="286.6" r="2" fill="#4e7775" />
<circle cx="488.1" cy="288.3" r="2" fill="#4e7775" />
<circle cx="482.9" cy="292.9" r="2" fill="#4e7775" />
<circle cx="488.6" cy="293.4" r="2" fill="#4e7775" />
<circle cx="480" cy="296.9" r="2" fill="#4e7775" />
<circle cx="489" cy="309.7" r="2" fill="#4e7775" />
<circle cx="489.3" cy="339.5" r="2" fill="#4e7775" />
<rect x="428.6" y="217.8" width="78.4" height="127" fill="none" stroke="#2e2e2e" stroke-width="1.2" />
<line x1="425.3" y1="244.7" x2="428.6" y2="244.7" stroke="#2e2e2e" stroke-width="1.5" />
<text x="422.6" y="247.9" font-size="9" fill="#4d4d4d" text-anchor="end" stroke="#4d4d4d" stroke-width="0.15" >1</text>
<line x1="425.3" y1="274.3" x2="428.6" y2="274.3" stroke="#2e2e2e" stroke-width="1.5" />
<text x="422.6" y="277.5" font-size="9" fill="#4d4d4d" text-anchor="end" stroke="#4d4d4d" stroke-width="0.15" >0</text>
<line x1="425.3" y1="303.9" x2="428.6" y2="303.9" stroke="#2e2e2e" stroke-width="1.5" />
<text x="422.6" y="307.1" font-size="9" fill="#4d4d4d" text-anchor="end" stroke="#4d4d4d" stroke-width="0.15" >−1</text>
<line x1="425.3" y1="333.5" x2="428.6" y2="333.5" stroke="#2e2e2e" stroke-width="1.5" />
<text x="422.6" y="336.7" font-size="9" fill="#4d4d4d" text-anchor="end" stroke="#4d4d4d" stroke-width="0.15" >−2</text>
<line x1="449.8" y1="344.8" x2="449.8" y2="348.1" stroke="#2e2e2e" stroke-width="1.5" />
<line x1="485.8" y1="344.8" x2="485.8" y2="348.1" stroke="#2e2e2e" stroke-width="1.5" />
<text x="450.5" y="357.8" font-size="9.9" fill="#333" text-anchor="middle" stroke="#333" stroke-width="0.15" textLength="11.9" lengthAdjust="spacingAndGlyphs" >No</text>
<text x="485.5" y="357.8" font-size="9.9" fill="#333" text-anchor="middle" stroke="#333" stroke-width="0.15" textLength="17.6" lengthAdjust="spacingAndGlyphs" >Yes</text>
<text x="383" y="356.9" font-size="7.6" fill="#1a1a1a" text-anchor="start" stroke="#1a1a1a" stroke-width="0.15" textLength="49.8" lengthAdjust="spacingAndGlyphs" >Overdistension</text>
<text transform="rotate(-90 395.9 282.5)" x="395.9" y="282.5" font-size="10.4" fill="#000" text-anchor="middle" stroke="#000" stroke-width="0.15" textLength="63.3" lengthAdjust="spacingAndGlyphs" >miRNA Score</text>
<text x="410" y="202.3" font-size="13.5" fill="#000" text-anchor="start" stroke="#000" stroke-width="0.15" >G</text>
<line x1="563.6" y1="319.94" x2="684.5" y2="319.94" stroke="#eeeeee" stroke-width="1.0" />
<line x1="563.6" y1="291.81" x2="684.5" y2="291.81" stroke="#eeeeee" stroke-width="1.0" />
<line x1="563.6" y1="263.69" x2="684.5" y2="263.69" stroke="#eeeeee" stroke-width="1.0" />
<line x1="563.6" y1="235.56" x2="684.5" y2="235.56" stroke="#eeeeee" stroke-width="1.0" />
<line x1="583.35" y1="216.6" x2="583.35" y2="339.2" stroke="#eeeeee" stroke-width="1.0" />
<line x1="610.65" y1="216.6" x2="610.65" y2="339.2" stroke="#eeeeee" stroke-width="1.0" />
<line x1="637.95" y1="216.6" x2="637.95" y2="339.2" stroke="#eeeeee" stroke-width="1.0" />
<line x1="665.25" y1="216.6" x2="665.25" y2="339.2" stroke="#eeeeee" stroke-width="1.0" />
<line x1="563.6" y1="334" x2="684.5" y2="334" stroke="#e6e6e6" stroke-width="1.2" />
<line x1="563.6" y1="305.88" x2="684.5" y2="305.88" stroke="#e6e6e6" stroke-width="1.2" />
<line x1="563.6" y1="277.75" x2="684.5" y2="277.75" stroke="#e6e6e6" stroke-width="1.2" />
<line x1="563.6" y1="249.62" x2="684.5" y2="249.62" stroke="#e6e6e6" stroke-width="1.2" />
<line x1="563.6" y1="221.5" x2="684.5" y2="221.5" stroke="#e6e6e6" stroke-width="1.2" />
<line x1="569.7" y1="216.6" x2="569.7" y2="339.2" stroke="#e6e6e6" stroke-width="1.2" />
<line x1="597" y1="216.6" x2="597" y2="339.2" stroke="#e6e6e6" stroke-width="1.2" />
<line x1="624.3" y1="216.6" x2="624.3" y2="339.2" stroke="#e6e6e6" stroke-width="1.2" />
<line x1="651.6" y1="216.6" x2="651.6" y2="339.2" stroke="#e6e6e6" stroke-width="1.2" />
<line x1="678.9" y1="216.6" x2="678.9" y2="339.2" stroke="#e6e6e6" stroke-width="1.2" />
<path d="M569.7,334 L569.7,279.6 L596.6,279.6 L596.6,260.7 L610.6,260.7 L610.6,250.8 L624.2,250.8 L624.2,231.3 L637.9,231.3 L637.9,226.8 L678.9,226.8 L678.9,222.3" fill="none" stroke="#4d7777" stroke-width="3.7" stroke-linejoin="round" stroke-linecap="butt"/>
<line x1="569.7" y1="334" x2="678.9" y2="221.5" stroke="#a0a0a0" stroke-width="1.25" stroke-dasharray="3.7,3.4"/>
<rect x="601.2" y="311.1" width="81.3" height="25.6" fill="#ebebeb" stroke="none" stroke-width="1" />
<text x="621.1" y="320" font-size="7.9" fill="#000" text-anchor="start" stroke="#000" stroke-width="0.04" textLength="40.4" lengthAdjust="spacingAndGlyphs" >AUC = 0.77</text>
<text x="605.9" y="331.7" font-size="8.1" fill="#000" text-anchor="start" stroke="#000" stroke-width="0.04" textLength="71.9" lengthAdjust="spacingAndGlyphs" >95% CI: 0.58 – 0.95</text>
<rect x="563.6" y="216.6" width="120.9" height="122.6" fill="none" stroke="#575757" stroke-width="1.0" />
<line x1="561.8" y1="334" x2="563.6" y2="334" stroke="#555" stroke-width="1.0" />
<line x1="569.7" y1="339.2" x2="569.7" y2="341" stroke="#555" stroke-width="1.0" />
<text x="559.4" y="336.9" font-size="8.2" fill="#4d4d4d" text-anchor="end" stroke="#4d4d4d" stroke-width="0.15" textLength="16.2" lengthAdjust="spacingAndGlyphs" >0.00</text>
<text x="572.1" y="348.8" font-size="8.2" fill="#4d4d4d" text-anchor="middle" stroke="#4d4d4d" stroke-width="0.15" textLength="15.9" lengthAdjust="spacingAndGlyphs" >0.00</text>
<line x1="561.8" y1="305.88" x2="563.6" y2="305.88" stroke="#555" stroke-width="1.0" />
<line x1="597" y1="339.2" x2="597" y2="341" stroke="#555" stroke-width="1.0" />
<text x="559.4" y="308.77" font-size="8.2" fill="#4d4d4d" text-anchor="end" stroke="#4d4d4d" stroke-width="0.15" textLength="16.2" lengthAdjust="spacingAndGlyphs" >0.25</text>
<text x="597" y="348.8" font-size="8.2" fill="#4d4d4d" text-anchor="middle" stroke="#4d4d4d" stroke-width="0.15" textLength="15.9" lengthAdjust="spacingAndGlyphs" >0.25</text>
<line x1="561.8" y1="277.75" x2="563.6" y2="277.75" stroke="#555" stroke-width="1.0" />
<line x1="624.3" y1="339.2" x2="624.3" y2="341" stroke="#555" stroke-width="1.0" />
<text x="559.4" y="280.65" font-size="8.2" fill="#4d4d4d" text-anchor="end" stroke="#4d4d4d" stroke-width="0.15" textLength="16.2" lengthAdjust="spacingAndGlyphs" >0.50</text>
<text x="624.5" y="348.8" font-size="8.2" fill="#4d4d4d" text-anchor="middle" stroke="#4d4d4d" stroke-width="0.15" textLength="15.9" lengthAdjust="spacingAndGlyphs" >0.50</text>
<line x1="561.8" y1="249.62" x2="563.6" y2="249.62" stroke="#555" stroke-width="1.0" />
<line x1="651.6" y1="339.2" x2="651.6" y2="341" stroke="#555" stroke-width="1.0" />
<text x="559.4" y="252.53" font-size="8.2" fill="#4d4d4d" text-anchor="end" stroke="#4d4d4d" stroke-width="0.15" textLength="16.2" lengthAdjust="spacingAndGlyphs" >0.75</text>
<text x="651.8" y="348.8" font-size="8.2" fill="#4d4d4d" text-anchor="middle" stroke="#4d4d4d" stroke-width="0.15" textLength="15.9" lengthAdjust="spacingAndGlyphs" >0.75</text>
<line x1="561.8" y1="221.5" x2="563.6" y2="221.5" stroke="#555" stroke-width="1.0" />
<line x1="678.9" y1="339.2" x2="678.9" y2="341" stroke="#555" stroke-width="1.0" />
<text x="559.4" y="224.4" font-size="8.2" fill="#4d4d4d" text-anchor="end" stroke="#4d4d4d" stroke-width="0.15" textLength="16.2" lengthAdjust="spacingAndGlyphs" >1.00</text>
<text x="677.4" y="348.8" font-size="8.2" fill="#4d4d4d" text-anchor="middle" stroke="#4d4d4d" stroke-width="0.15" textLength="15.9" lengthAdjust="spacingAndGlyphs" >1.00</text>
<text transform="rotate(-90 534.6 274.8)" x="534.6" y="274.8" font-size="12.4" fill="#000" text-anchor="middle" stroke="#000" stroke-width="0.15" textLength="56.3" lengthAdjust="spacingAndGlyphs" >sensitivity</text>
<text x="581.8" y="363.7" font-size="11.2" fill="#000" text-anchor="start" stroke="#000" stroke-width="0.15" textLength="69.4" lengthAdjust="spacingAndGlyphs" >1 − specificity</text>
<text x="543" y="201.9" font-size="13.5" fill="#000" text-anchor="start" stroke="#000" stroke-width="0.15" >H</text>
</svg></body></html>
